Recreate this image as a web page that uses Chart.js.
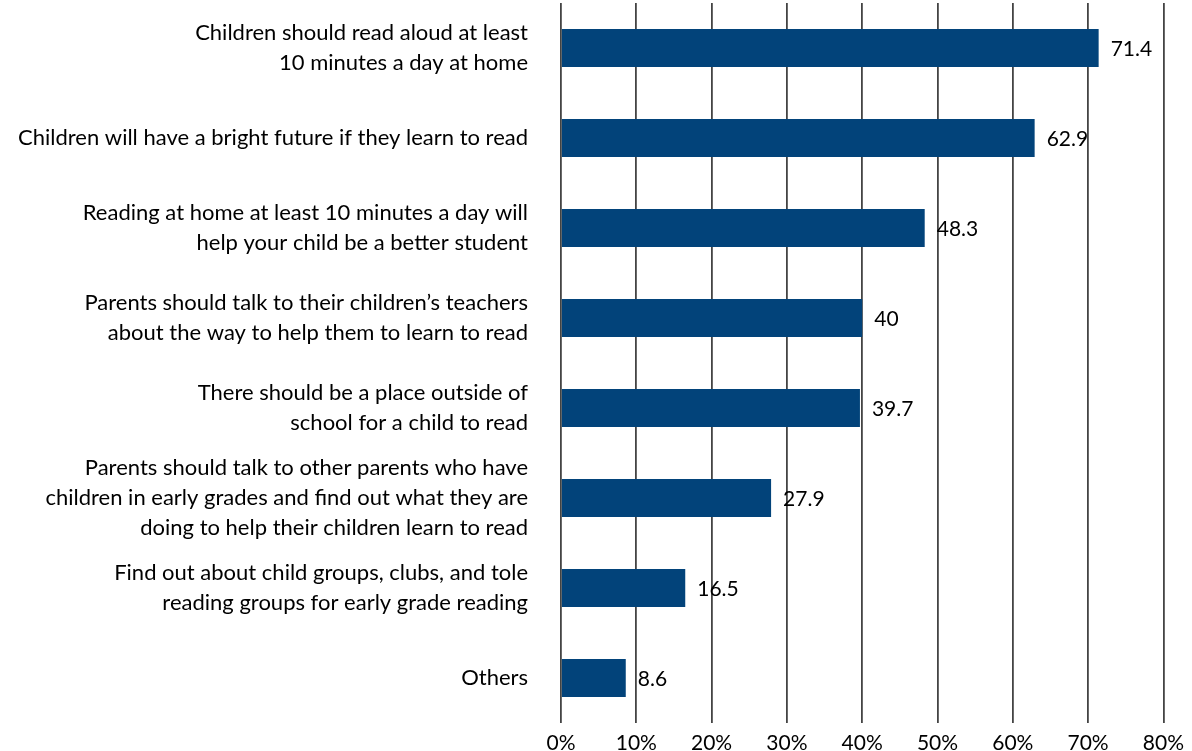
<!DOCTYPE html>
<html>
<head>
<meta charset="utf-8">
<script src="https://cdn.jsdelivr.net/npm/chart.js@4"></script>
<style>
  html, body { margin: 0; padding: 0; background: #fff; }
  #wrap { width: 1192px; height: 751px; position: relative; }
</style>
</head>
<body>
<div id="wrap"><canvas id="opinionChart"></canvas></div>
<script>
  const statements = [
    ['Children should read aloud at least', '10 minutes a day at home'],
    'Children will have a bright future if they learn to read',
    ['Reading at home at least 10 minutes a day will', 'help your child be a better student'],
    ['Parents should talk to their children\u2019s teachers', 'about the way to help them to learn to read'],
    ['There should be a place outside of', 'school for a child to read'],
    ['Parents should talk to other parents who have', 'children in early grades and find out what they are', 'doing to help their children learn to read'],
    ['Find out about child groups, clubs, and tole', 'reading groups for early grade reading'],
    'Others'
  ];
  const percents = [71.4, 62.9, 48.3, 40, 39.7, 27.9, 16.5, 8.6];
  const xTicks = [0, 10, 20, 30, 40, 50, 60, 70, 80];

  const FONT = 'Lato, "Open Sans", sans-serif';

  // value labels just past the end of each bar
  const valueLabels = {
    id: 'valueLabels',
    afterDatasetsDraw(chart) {
      const ctx = chart.ctx;
      const meta = chart.getDatasetMeta(0);
      ctx.save();
      ctx.font = '21px ' + FONT;
      ctx.fillStyle = '#000';
      ctx.textAlign = 'left';
      ctx.textBaseline = 'middle';
      meta.data.forEach((bar, i) => {
        ctx.fillText(String(percents[i]), bar.x + 12, bar.y + 1);
      });
      ctx.restore();
    }
  };

  new Chart(document.getElementById('opinionChart'), {
    type: 'bar',
    data: {
      labels: statements,
      datasets: [{
        data: percents,
        backgroundColor: '#02437A',
        borderWidth: 0,
        barPercentage: 0.84,
        categoryPercentage: 0.5
      }]
    },
    options: {
      indexAxis: 'y',
      responsive: true,
      maintainAspectRatio: false,
      animation: false,
      layout: { padding: { top: 3, right: 27, bottom: 0, left: 0 } },
      plugins: {
        legend: { display: false },
        tooltip: { enabled: false }
      },
      scales: {
        x: {
          min: 0,
          max: 80,
          afterBuildTicks(scale) {
            scale.ticks = xTicks.map(v => ({ value: v }));
          },
          afterFit(scale) { scale.height = 28; },
          grid: { color: '#444', lineWidth: 1.8, drawTicks: false },
          border: { display: false },
          ticks: {
            padding: 8,
            color: '#000',
            font: { family: FONT, size: 21 },
            callback: v => v + '%'
          }
        },
        y: {
          afterFit(scale) {
            scale.width = 561;
            // labels may overhang the plot; don't shrink it for them
            scale.paddingTop = 0;
            scale.paddingBottom = 0;
          },
          grid: { display: false, drawTicks: false },
          border: { display: false },
          ticks: {
            autoSkip: false,
            padding: 33,
            color: '#000',
            font: { family: FONT, size: 22, lineHeight: 1.35 }
          }
        }
      }
    },
    plugins: [valueLabels]
  });
</script>
</body>
</html>
